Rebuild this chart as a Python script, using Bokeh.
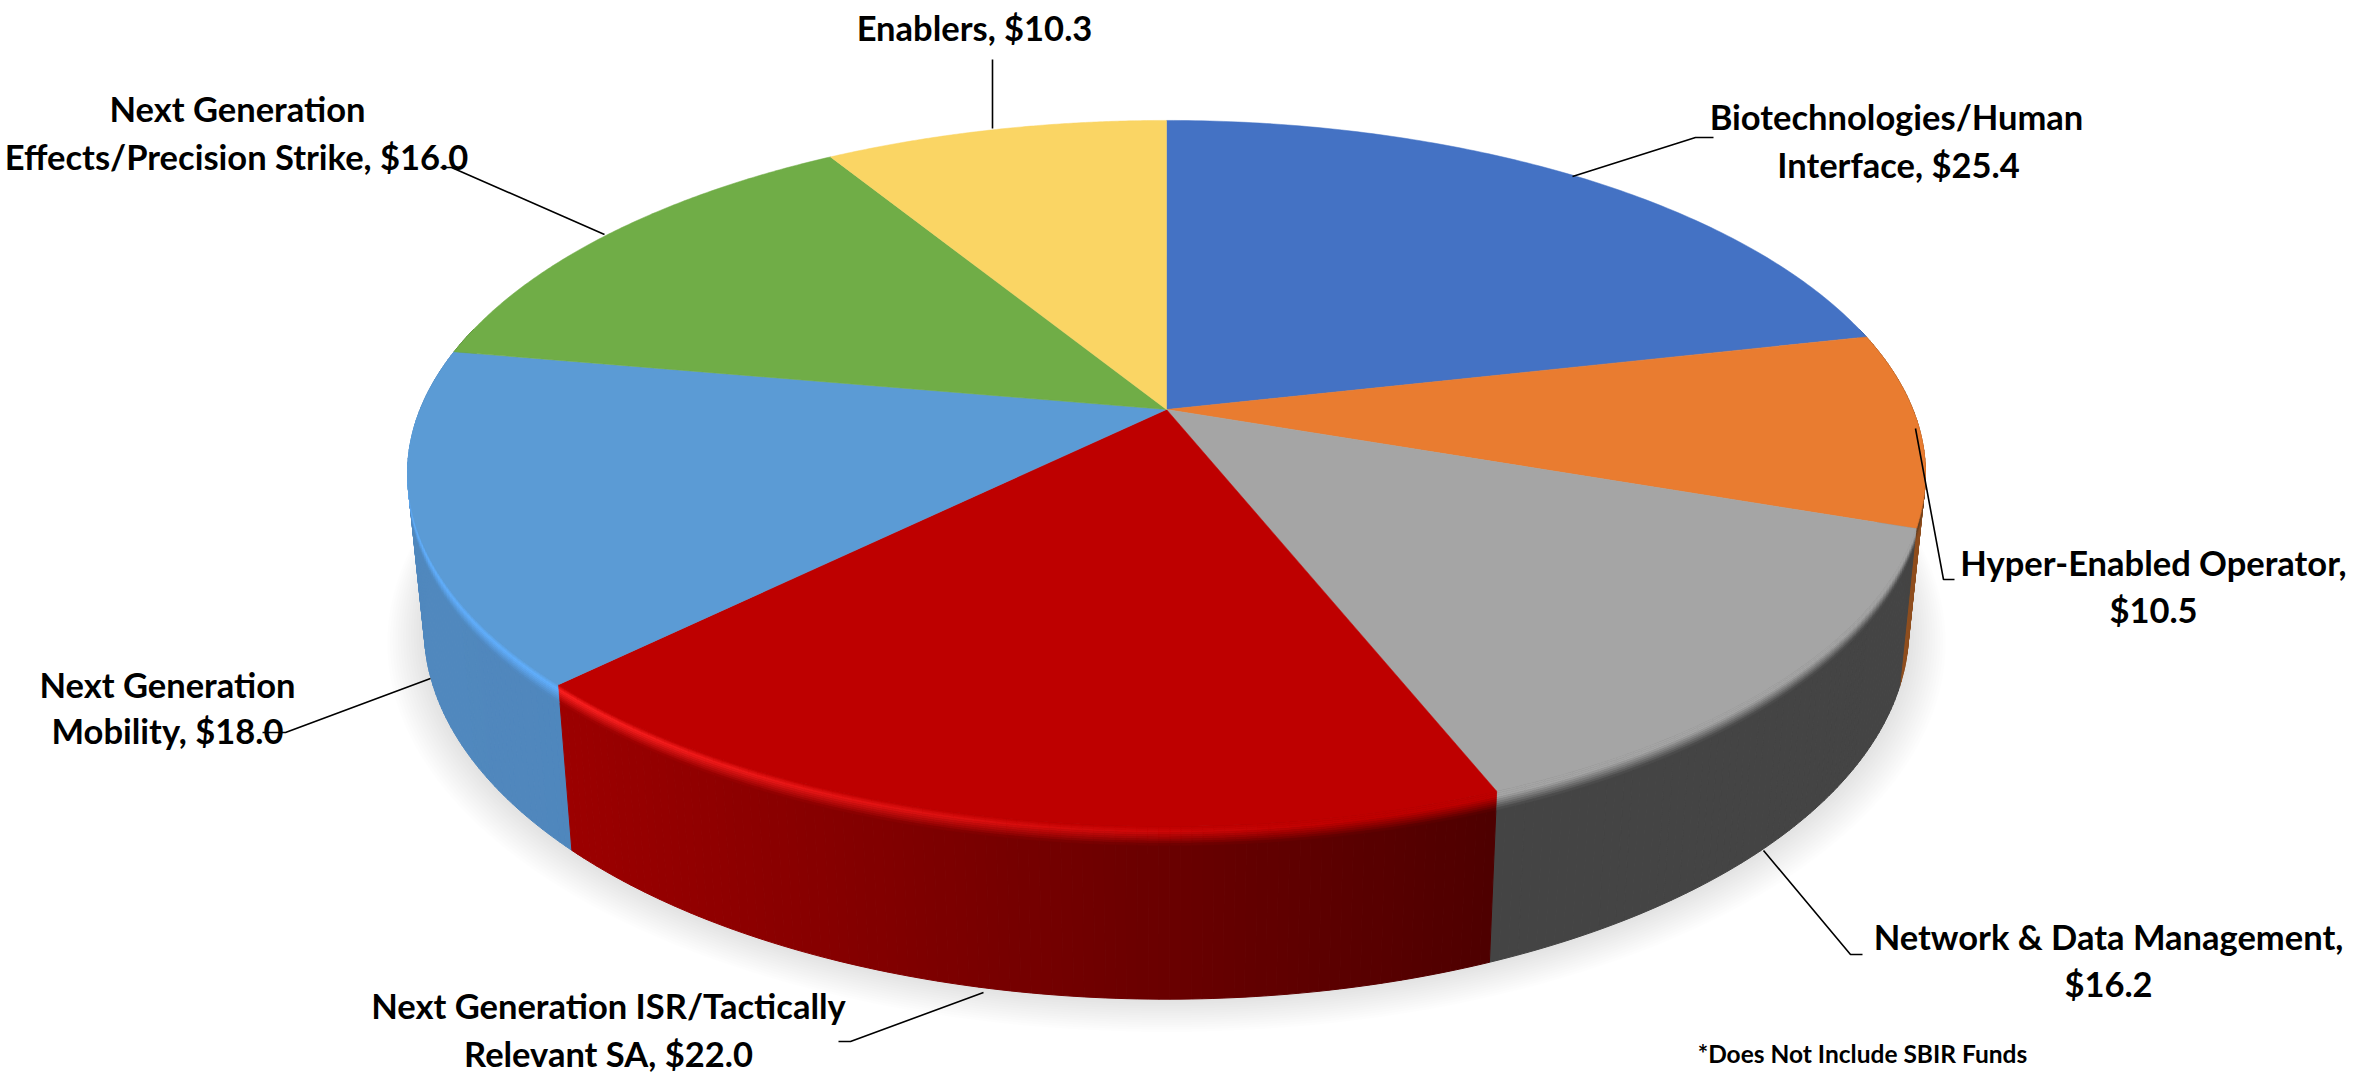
import numpy as np
from bokeh.plotting import figure
from bokeh.embed import file_html
from bokeh.resources import INLINE
from bokeh.core.properties import value

categories = ["Biotechnologies/Human Interface", "Hyper-Enabled Operator",
              "Network & Data Management", "Next Generation ISR/Tactically Relevant SA",
              "Next Generation Mobility", "Next Generation Effects/Precision Strike", "Enablers"]
values = [25.4, 10.5, 16.2, 22.0, 18.0, 16.0, 10.3]
top_colors = ["#4472C4", "#E97C30", "#A5A5A5", "#BE0000", "#5B9BD5", "#70AD47", "#FAD564"]
side_left = ["#2F5597", "#8F4E1E", "#444444", "#4E0000", "#4A7DB0", "#4F7A32", "#B09642"]
side_right = ["#2F5597", "#A85A20", "#444444", "#9C0000", "#5088BE", "#4F7A32", "#B09642"]
highlight = ["#4472C4", "#5A3A20", "#A5A5A5", "#FF2222", "#62B0FF", "#70AD47", "#FAD564"]

W, H = 2356, 1074
CX, CY, A, B, K = 1166.0, 409.0, 746.4, 341.4, 0.181
BS_X, BS_Y, BDY = 0.978, 1.05, 152.0


def top(th):
    w = 1 + K * np.cos(th)
    return CX + A * np.sin(th) / w, CY - B * np.cos(th) / w


def bottom(th, grow=0.0, dy=0.0):
    x, y = top(th)
    bx = CX + BS_X * (1 + grow) * (x - CX)
    by = CY + BDY + dy + BS_Y * (1 + grow) * (y - CY)
    return bx, by


def rgb(h):
    return np.array([int(h[i:i + 2], 16) for i in (1, 3, 5)], float)


def mix(a, b, t):
    c = rgb(a) * (1 - t) + rgb(b) * t
    return "#%02x%02x%02x" % tuple(int(round(v)) for v in c)


edges = np.concatenate([[0], np.cumsum(values)]) / np.sum(values) * 2 * np.pi

p = figure(width=W, height=H, x_range=(0, W), y_range=(H, 0),
           output_backend="svg", toolbar_location=None, min_border=0,
           outline_line_color=None, background_fill_color="white", border_fill_color="white")
p.axis.visible = False
p.grid.visible = False

# soft shadow under the disc
full = np.linspace(0, 2 * np.pi, 241)
sx, sy, = [], []
for g in np.linspace(0.05, 0.004, 14):
    x, y = bottom(full, grow=g, dy=g * 220)
    sx.append(x.tolist())
    sy.append(y.tolist())
p.patches(sx, sy, fill_color="black", fill_alpha=0.0095, line_color=None)

# side wall, back to front
strips = []
for i in range(len(values)):
    n = max(4, int((edges[i + 1] - edges[i]) / 0.012))
    th = np.linspace(edges[i], edges[i + 1], n + 1)
    for a, b in zip(th[:-1], th[1:]):
        if np.cos((a + b) / 2) > 0.25:
            continue
        strips.append((i, a, b))
strips.sort(key=lambda s: -np.cos((s[1] + s[2]) / 2))


def side_col(i, xm):
    if i == 3:
        return mix(side_right[i], side_left[i], np.clip((xm - 560) / 935, 0, 1))
    return mix(side_right[i], side_left[i], np.clip(((xm - CX) / 760 + 1) / 2, 0, 1))


xs, ys, cols = [], [], []
for i, a, b in strips:
    t = np.array([a, b])
    tx, ty = top(t)
    bx, by = bottom(t)
    col = side_col(i, tx.mean())
    xs.append([tx[0], tx[1], bx[1], bx[0]])
    ys.append([ty[0], ty[1], by[1], by[0]])
    cols.append(col)
p.patches(xs, ys, fill_color=cols, line_color=cols, line_width=1)

# bevel between the top face and the side wall
xs, ys, cols = [], [], []
lv = np.linspace(0, 0.11, 10)
for i, a, b in strips:
    if np.cos((a + b) / 2) > -0.02:
        continue
    t = np.array([a, b])
    tx, ty = top(t)
    bx, by = bottom(t)
    fade = 1 - np.clip((tx.mean() - 560) / 800, 0, 1) if i == 3 else 1.0
    side = side_col(i, tx.mean())
    hl = mix(top_colors[i], highlight[i], fade)
    for f0, f1 in zip(lv[:-1], lv[1:]):
        fm = (f0 + f1) / 2 / lv[-1]
        if fm < 0.3:
            col = mix(top_colors[i], hl, fm / 0.3)
        else:
            col = mix(hl, side, (fm - 0.3) / 0.7)
        x0, y0 = tx + f0 * (bx - tx), ty + f0 * (by - ty)
        x1, y1 = tx + f1 * (bx - tx), ty + f1 * (by - ty)
        xs.append([x0[0], x0[1], x1[1], x1[0]])
        ys.append([y0[0], y0[1], y1[1], y1[0]])
        cols.append(col)
p.patches(xs, ys, fill_color=cols, line_color=cols, line_width=0.6)

# top face
xs, ys = [], []
for i in range(len(values)):
    th = np.linspace(edges[i], edges[i + 1], 120)
    x, y = top(th)
    xs.append([CX] + x.tolist())
    ys.append([CY] + y.tolist())
p.patches(xs, ys, fill_color=top_colors, line_color=top_colors, line_width=0.5)

# leader lines
leaders = [
    ([1572, 1695, 1713], [176, 137, 137]),
    ([1915, 1943, 1954], [428, 579, 579]),
    ([1763, 1850, 1862], [850, 954, 954]),
    ([983, 850, 838], [992, 1041, 1041]),
    ([430, 285, 262], [678, 732, 732]),
    ([604, 451, 440], [234, 167, 167]),
    ([992, 992], [128, 59]),
]
p.multi_line([l[0] for l in leaders], [l[1] for l in leaders], line_color="black", line_width=1.6)

# labels
label_lines = [
    ("Biotechnologies/Human", 1896, 116), (f"Interface, ${values[0]:.1f}", 1898, 164),
    ("Hyper-Enabled Operator,", 2153, 562), (f"${values[1]:.1f}", 2153, 609),
    ("Network & Data Management,", 2108, 936), (f"${values[2]:.1f}", 2108, 983),
    ("Next Generation ISR/Tactically", 608, 1005), (f"Relevant SA, ${values[3]:.1f}", 608, 1053),
    ("Next Generation", 167, 684), (f"Mobility, ${values[4]:.1f}", 167, 730),
    ("Next Generation", 237, 108), (f"Effects/Precision Strike, ${values[5]:.1f}", 236, 156),
    (f"Enablers, ${values[6]:.1f}", 974, 27),
]
p.text([l[1] for l in label_lines], [l[2] for l in label_lines], text=[l[0] for l in label_lines],
       text_font=value("Lato"), text_font_style="bold", text_font_size="34.5px",
       text_align="center", text_baseline="middle", text_color="black")
p.text([1862], [1053], text=["*Does Not Include SBIR Funds"],
       text_font=value("Lato"), text_font_style="bold", text_font_size="24.5px",
       text_align="center", text_baseline="middle", text_color="black")

open("out.html", "w").write(file_html(p, INLINE))
